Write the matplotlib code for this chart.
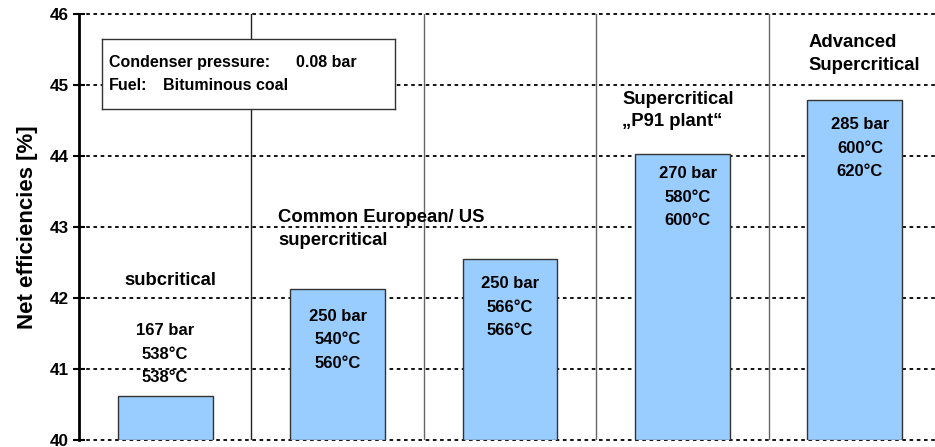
import matplotlib
matplotlib.use("Agg")
import matplotlib.pyplot as plt

plt.rcParams['font.family'] = ['Liberation Sans', 'DejaVu Sans']
plt.rcParams['font.weight'] = 'bold'

# Net efficiency per plant type
efficiencies = [40.62, 42.13, 42.55, 44.03, 44.79]
steam_params = [
    "167 bar\n538°C\n538°C",
    "250 bar\n540°C\n560°C",
    "250 bar\n566°C\n566°C",
    "270 bar\n580°C\n600°C",
    "285 bar\n600°C\n620°C",
]
yticks = [40, 41, 42, 43, 44, 45, 46]

FS_BAR = 12
FS_CAT = 13.3
FS_BOX = 11.5

fig = plt.figure(figsize=(9.35, 4.47), dpi=100)
W, H = 935, 447
ax = fig.add_axes([79 / W, 1 - 440 / H, (935 - 79) / W, (440 - 14) / H])

slot = 172.4
xmax = -0.5 + (935 - 79) / slot
ax.set_xlim(-0.5, xmax)
ax.set_ylim(40, 46)

# horizontal dotted grid
for y in yticks:
    ax.plot([-0.5, xmax], [y, y], color='black', lw=1.3,
            linestyle=(0, (2, 2)), zorder=1, clip_on=False)

# group separators
for i, c in enumerate([0.5, 1.5, 2.5, 3.5]):
    ax.axvline(c, color='#222222' if i == 0 else '#666666', lw=1.0, zorder=1)

x = list(range(len(efficiencies)))
ax.bar(x, [e - 40 for e in efficiencies], bottom=40, width=0.55,
       color='#99CCFF', edgecolor='#333333', linewidth=1.0, zorder=3)

# steam parameter labels (centre of the three-line block)
label_y = [41.21, 41.41, 41.87, 43.42, 44.11]
label_dx = [0.0, 0.0, 0.0, 0.03, 0.03]
for xi, txt, ly, dx in zip(x, steam_params, label_y, label_dx):
    ax.text(xi + dx, ly, txt, ha='center', va='center', fontsize=FS_BAR,
            fontweight='bold', linespacing=1.72, zorder=4)

# category labels
ax.text(0.028, 42.25, "subcritical", ha='center', va='center',
        fontsize=FS_CAT, fontweight='bold')
ax.text(0.654, 42.97, "Common European/ US\nsupercritical", ha='left',
        va='center', fontsize=FS_CAT, fontweight='bold', linespacing=1.43)
ax.text(2.65, 44.64, "Supercritical\n„P91 plant“", ha='left', va='center',
        fontsize=FS_CAT, fontweight='bold', linespacing=1.43)
ax.text(3.73, 45.44, "Advanced\nSupercritical", ha='left', va='center',
        fontsize=FS_CAT, fontweight='bold', linespacing=1.43)

# info box
box_ax = fig.add_axes([102 / W, 1 - 109 / H, (395 - 102) / W, (109 - 39) / H])
box_ax.set_xticks([])
box_ax.set_yticks([])
for s in box_ax.spines.values():
    s.set_color('#333333')
    s.set_linewidth(1.0)
box_rows = [
    (0.67, "Condenser pressure:", 0.662, "0.08 bar"),
    (0.33, "Fuel:", 0.208, "Bituminous coal"),
]
for yy, key, xv, val in box_rows:
    box_ax.text(0.024, yy, key, ha='left', va='center', fontsize=FS_BOX,
                fontweight='bold', transform=box_ax.transAxes)
    box_ax.text(xv, yy, val, ha='left', va='center', fontsize=FS_BOX,
                fontweight='bold', transform=box_ax.transAxes)

# axes styling
ax.set_yticks(yticks)
ax.set_yticklabels([str(t) for t in yticks], fontsize=12.3, fontweight='bold')
ax.set_xticks([])
ax.tick_params(axis='y', direction='inout', length=9, width=1.5, pad=3)
for side in ['top', 'right', 'bottom']:
    ax.spines[side].set_visible(False)
ax.spines['left'].set_linewidth(2.0)
ax.spines['left'].set_zorder(5)
ax.set_ylabel("Net efficiencies [%]", fontsize=16, fontweight='bold',
              labelpad=8)

fig.savefig("out.png", dpi=100)
